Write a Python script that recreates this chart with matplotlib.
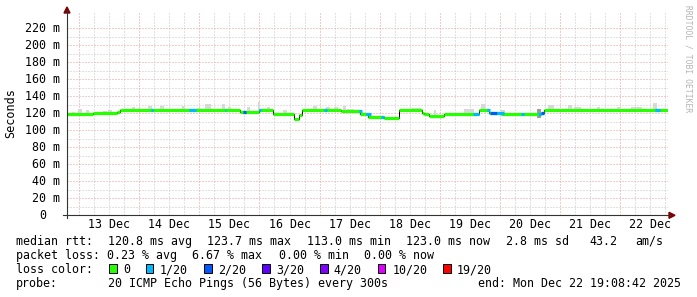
import numpy as np
import matplotlib
matplotlib.use('Agg')
import matplotlib.pyplot as plt
from matplotlib.patches import Polygon, Rectangle
from matplotlib.lines import Line2D
import matplotlib.transforms as mtransforms

# time axis: days since 13 Dec 00:00, graph ends Mon Dec 22 19:08:42
t_end = 9 + (19 + 8 / 60 + 42 / 3600) / 24
t_start = t_end - 10

day_labels = ['13 Dec', '14 Dec', '15 Dec', '16 Dec', '17 Dec',
              '18 Dec', '19 Dec', '20 Dec', '21 Dec', '22 Dec']
y_ticks = [0, 20, 40, 60, 80, 100, 120, 140, 160, 180, 200, 220]
y_tick_labels = ['0', '20 m', '40 m', '60 m', '80 m', '100 m', '120 m',
                 '140 m', '160 m', '180 m', '200 m', '220 m']

# median rtt (ms), step segments
seg_start = [t_start, 0.23, 0.63, 0.68, 2.68, 3.00, 3.23, 3.57, 3.65, 3.70,
             4.35, 4.68, 4.80, 5.07, 5.33, 5.70, 5.73, 5.82, 6.07, 6.65,
             6.82, 7.02, 7.68, 7.73]
seg_value = [118.8, 120.7, 121.8, 123.5, 121.0, 123.5, 118.8, 113.3, 118.4, 123.5,
             122.5, 119.0, 116.0, 114.0, 123.5, 120.3, 119.5, 117.0, 119.0, 123.3,
             120.0, 119.0, 120.5, 123.5]

# packet loss spots: start, end, lost pings out of 20
loss_start = [1.20, 1.83, 2.42, 2.73, 3.00, 4.07, 4.65, 4.78, 5.03, 6.55,
              6.78, 6.83, 6.95, 7.35, 7.63, 7.68, 9.58]
loss_end = [1.23, 1.95, 2.45, 2.77, 3.03, 4.12, 4.70, 4.85, 5.08, 6.65,
            6.83, 6.95, 7.07, 7.40, 7.68, 7.73, 9.67]
loss_level = [1, 1, 1, 2, 1, 1, 1, 1, 1, 1, 1, 2, 1, 1, 1, 2, 1]

# smoke spikes above the median: left edge, width (days), top (ms)
smoke_left = [-0.117, -0.017, 0.117, 0.40, 0.483, 0.883, 0.983, 1.15, 1.35, 1.717,
              1.967, 2.10, 2.383, 2.483, 2.80, 2.983, 3.133, 3.40, 3.883, 4.10,
              4.233, 4.383, 4.45, 5.517, 5.90, 6.40, 6.683, 7.017, 7.80, 8.133,
              8.233, 8.617, 8.95, 9.183, 9.55]
smoke_width = [0.05, 0.067, 0.05, 0.067, 0.067, 0.05, 0.033, 0.067, 0.067, 0.05,
               0.05, 0.10, 0.05, 0.05, 0.05, 0.033, 0.05, 0.05, 0.067, 0.067,
               0.067, 0.05, 0.117, 0.167, 0.033, 0.167, 0.067, 0.067, 0.10, 0.067,
               0.117, 0.05, 0.05, 0.183, 0.067]
smoke_top = [121.5, 125, 123.5, 122.5, 124, 127, 126, 129, 129, 129,
             126, 131, 131, 128, 128, 133, 127, 124, 129, 128,
             128, 129, 125, 126, 124, 125, 131, 124, 130, 130,
             127, 128, 128, 128, 132]

loss_names = ['0', '1/20', '2/20', '3/20', '4/20', '10/20', '19/20']
loss_counts = [0, 1, 2, 3, 4, 10, 19]
loss_colors = ['#26ff00', '#00b8ff', '#0059ff', '#5e00ff', '#7e00ff', '#dd00ff', '#ff0000']

legend_rows = [
    [('median rtt:', 16), ('120.8 ms avg', 107.5), ('123.7 ms max', 207.3),
     ('113.0 ms min', 306.8), ('123.0 ms now', 405.5), ('2.8 ms sd', 506.5),
     ('43.2', 589), ('am/s', 635.5)],
    [('packet loss:', 16), ('0.23 % avg', 107), ('6.67 % max', 192.5),
     ('0.00 % min', 279), ('0.00 % now', 364.5)],
    [('loss color:', 16)],
    [('probe:', 16), ('20 ICMP Echo Pings (56 Bytes) every 300s', 107.5),
     ('end: Mon Dec 22 19:08:42 2025', 477.5)],
]
row_base = [244.7, 259.3, 273.3, 287.3]
box_x = [109, 145.8, 204, 262, 320, 377.8, 443]
box_label_x = [123.3, 160, 218, 276.7, 333.5, 392.7, 457]

W, H = 697, 297
def fx(px):
    return px / W
def fy(py):
    return 1 - py / H

mono = 'DejaVu Sans Mono'
fs = 8.4

fig = plt.figure(figsize=(W / 100, H / 100), dpi=100)
fig.patch.set_facecolor('white')
ax = fig.add_axes([fx(67), fy(215.3), fx(668) - fx(67), fy(11.3) - fy(215.3)])
ax.set_xlim(t_start, t_end)
ax.set_ylim(0, 240)
ax.set_axis_off()

grey = '#c4c4c4'
red = '#e49a9a'
dots = (0, (1, 2))

# grid
for v in np.arange(0, 230, 10):
    if v == 0:
        continue
    c = red if v % 20 == 0 else grey
    ax.axhline(v, color=c, ls=dots, lw=0.72, zorder=1)
for q in np.arange(-0.0, t_end, 0.25):
    c = red if q % 1 == 0 else grey
    ax.axvline(q, color=c, ls=dots, lw=0.72, zorder=1)

def median_at(t):
    i = np.searchsorted(seg_start, t, side='right') - 1
    return seg_value[max(i, 0)]

# smoke
base = [median_at(l) - 1 for l in smoke_left]
ax.bar(smoke_left, np.array(smoke_top) - np.array(base), width=smoke_width,
       bottom=base, align='edge', color='#d8d8d8', lw=0, zorder=2)
ax.bar([7.617], [10.5], width=0.067, bottom=[114.5], align='edge',
       color='#9a9a9a', lw=0, zorder=2)

# median line
edges = seg_start + [t_end]
ax.step(edges, seg_value + [seg_value[-1]], where='post', color='black',
        lw=0.7, zorder=3)
ax.hlines(seg_value, seg_start, edges[1:], color=loss_colors[0], lw=2.3,
          zorder=4, capstyle='butt')
for a, b, lvl in zip(loss_start, loss_end, loss_level):
    ax.hlines(median_at(a), a, b, color=loss_colors[loss_counts.index(lvl)],
              lw=2.3, zorder=5, capstyle='butt')

# axes lines and arrows
axis_c = '#333333'
fig.add_artist(Line2D([fx(67), fx(67)], [fy(218), fy(10)], color=axis_c, lw=0.8))
fig.add_artist(Line2D([fx(63), fx(670)], [fy(215.3), fy(215.3)], color=axis_c, lw=0.8))
fig.add_artist(Polygon([[fx(67), fy(7)], [fx(64), fy(13)], [fx(70), fy(13)]],
                       closed=True, color='#7f0000', transform=fig.transFigure))
fig.add_artist(Polygon([[fx(675), fy(215.3)], [fx(669), fy(212.3)], [fx(669), fy(218.3)]],
                       closed=True, color='#7f0000', transform=fig.transFigure))

# tick labels ("0" has no unit, so it sits two characters further left)
for v, lab in zip(y_ticks, y_tick_labels):
    shift = 7 if lab.endswith('m') else 21
    ytr = mtransforms.offset_copy(ax.get_yaxis_transform(), fig=fig, x=-shift / 100,
                                  y=-3.3 / 100, units='inches')
    ax.text(0, v, lab, transform=ytr, ha='right', va='baseline', fontsize=fs,
            family=mono, color='black')
for i, lab in enumerate(day_labels):
    fig.text(fx(67 + (i + 0.5 - t_start) * 601 / 10), fy(228), lab, ha='center',
             va='baseline', fontsize=fs, family=mono, color='black')

fig.text(fx(11), fy(113), 'Seconds', rotation=90, ha='center', va='center',
         fontsize=8.5, family=mono, color='black')
fig.text(fx(688), fy(5), 'RRDTOOL / TOBI OETIKER', rotation=270, ha='center', va='top',
         fontsize=5.8, family=mono, color='#b4b4b4')

# legend
for row, yb in zip(legend_rows, row_base):
    for txt, x in row:
        fig.text(fx(x), fy(yb), txt, ha='left', va='baseline', fontsize=fs,
                 family=mono, color='black')
for bx, lx, name, col in zip(box_x, box_label_x, loss_names, loss_colors):
    fig.add_artist(Rectangle((fx(bx), fy(273.3)), 7.5 / W, 9 / H, facecolor=col,
                             edgecolor='black', lw=0.7, transform=fig.transFigure))
    fig.text(fx(lx), fy(273.3), name, ha='left', va='baseline', fontsize=fs,
             family=mono, color='black')

fig.savefig('out.png', dpi=100)
